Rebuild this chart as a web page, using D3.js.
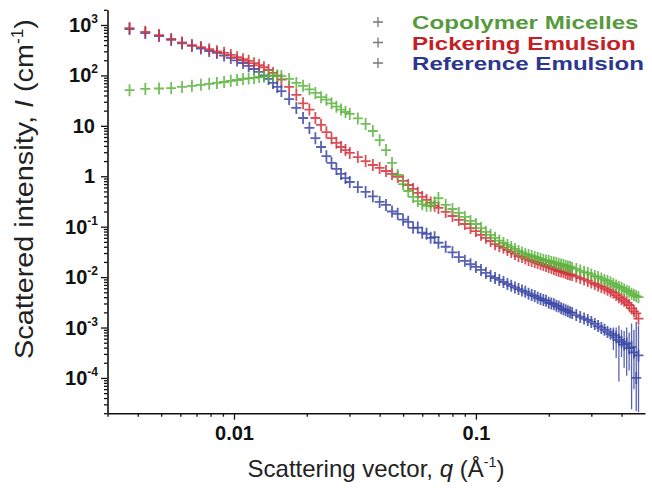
<!DOCTYPE html>
<html>
<head>
<meta charset="utf-8">
<script src="https://cdn.jsdelivr.net/npm/d3@7"></script>
<style>
  html, body { margin: 0; padding: 0; background: #fff; }
  svg { display: block; font-family: "Liberation Sans", Arial, Helvetica, sans-serif; }
</style>
</head>
<body>
<svg id="chart" width="652" height="489"></svg>
<script>
// Scattering vector q (Å⁻¹) shared by the three SANS curves
const q = [
  0.0037, 0.0043, 0.0049, 0.0055, 0.0061, 0.0067, 0.0073, 0.0079, 0.0085, 0.0091,
  0.0097, 0.0103, 0.0109, 0.0115, 0.0121, 0.0127, 0.0133, 0.0139, 0.0145, 0.0151, 0.0157,
  0.0169, 0.0181, 0.0193, 0.0205, 0.0217, 0.0229, 0.0241, 0.0253, 0.0265, 0.0277, 0.0289, 0.0301,
  0.0325, 0.035, 0.0375, 0.04, 0.0425, 0.045, 0.0475, 0.05, 0.0525, 0.055, 0.0575, 0.06,
  0.0625, 0.065, 0.0675, 0.07,
  0.075, 0.08, 0.085, 0.09, 0.095, 0.1, 0.105, 0.11, 0.115, 0.12, 0.125, 0.13, 0.135, 0.14,
  0.145, 0.15, 0.155, 0.16, 0.165, 0.17, 0.175, 0.18, 0.185, 0.19, 0.195, 0.2, 0.205, 0.21,
  0.215, 0.22, 0.225, 0.23, 0.235, 0.24, 0.245, 0.25,
  0.26, 0.27, 0.28, 0.29, 0.30, 0.31, 0.32, 0.33, 0.34, 0.35, 0.36, 0.37, 0.38, 0.39,
  0.40, 0.41, 0.42, 0.43, 0.44, 0.45, 0.46, 0.47
];

// Scattered intensity I (cm⁻¹)
const copolymerMicelles = [
  51, 54, 55, 56, 59, 62, 65, 68, 71, 74, 78, 81, 85, 87, 89, 93, 95, 97, 100, 100, 97,
  85, 71, 62, 53, 45, 37, 33, 28, 24, 21, 18.8, 17.2,
  14.0, 10.9, 7.9, 5.2, 3.3, 1.84, 1.06, 0.70, 0.51, 0.39, 0.32, 0.28, 0.26, 0.26, 0.30, 0.37,
  0.27, 0.224, 0.187, 0.156, 0.130, 0.113, 0.094, 0.079, 0.069, 0.060, 0.053, 0.0475, 0.0434,
  0.0396, 0.0362, 0.0330, 0.0308, 0.0288, 0.0275, 0.0262, 0.0251, 0.0240, 0.0229, 0.0219,
  0.0214, 0.0209, 0.0200, 0.0195, 0.0191, 0.0182, 0.0178, 0.0174, 0.0166, 0.0163, 0.0159, 0.0152,
  0.0145, 0.0135, 0.0126, 0.0121, 0.0113, 0.0105, 0.0101, 0.0094, 0.0088, 0.0084, 0.0078,
  0.0073, 0.0068, 0.0064, 0.0061, 0.0057, 0.0053, 0.0051, 0.0047, 0.0044, 0.0042, 0.0040
];

const pickeringEmulsion = [
  870, 730, 630, 530, 450, 400, 365, 330, 300, 280, 255, 230, 210, 195, 175, 160, 145, 128, 112, 97, 83,
  59, 41, 28, 21, 14.3, 10.4, 7.5, 5.7, 4.6, 3.8, 3.3, 2.9,
  2.4, 2.0, 1.67, 1.46, 1.27, 1.11, 0.97, 0.81, 0.67, 0.56, 0.47, 0.39, 0.34, 0.30, 0.26, 0.235,
  0.196, 0.163, 0.136, 0.113, 0.094, 0.082, 0.069, 0.060, 0.052, 0.045, 0.041, 0.038, 0.0345,
  0.0315, 0.0288, 0.0262, 0.0251, 0.0234, 0.0219, 0.0209, 0.0200, 0.0191, 0.0182, 0.0174,
  0.0166, 0.0159, 0.0152, 0.0145, 0.0139, 0.0132, 0.0129, 0.0126, 0.0121, 0.0115, 0.0113, 0.0110,
  0.0103, 0.0096, 0.0090, 0.0084, 0.0078, 0.0073, 0.0068, 0.0064, 0.0060, 0.0056, 0.0052,
  0.0049, 0.0044, 0.0040, 0.0037, 0.0034, 0.0031, 0.0028, 0.0024, 0.0021, 0.0019, 0.0015
];

const referenceEmulsion = [
  830, 690, 605, 505, 430, 384, 342, 305, 279, 248, 222, 198, 176, 154, 134, 117, 100, 85, 71, 59, 49,
  34, 22.6, 14.3, 9.1, 5.7, 3.8, 2.5, 1.84, 1.40, 1.11, 0.92, 0.77,
  0.61, 0.49, 0.40, 0.31, 0.27, 0.20, 0.18, 0.138, 0.125, 0.095, 0.096, 0.076, 0.072, 0.060, 0.062, 0.048,
  0.040, 0.031, 0.025, 0.021, 0.018, 0.0159, 0.0139, 0.0121, 0.0105, 0.0096, 0.0088, 0.0080, 0.0073,
  0.0067, 0.0062, 0.0058, 0.0054, 0.0051, 0.0047, 0.0044, 0.0042, 0.0039, 0.0037, 0.0035,
  0.0034, 0.0031, 0.0030, 0.0029, 0.0027, 0.0026, 0.0024, 0.0023, 0.0022, 0.0021, 0.0020, 0.00195,
  0.00177, 0.00162, 0.00151, 0.00141, 0.00129, 0.00118, 0.00107, 0.00098, 0.00090, 0.00082, 0.00075,
  0.00070, 0.00064, 0.00057, 0.00052, 0.00046, 0.00048, 0.00039, 0.00041, 0.00032, 0.00010, 0.00028
];

// Error bars on the noisy high-q end of the reference emulsion
const refTailQ    = [0.37, 0.38, 0.39, 0.40, 0.41, 0.42, 0.43, 0.44, 0.45, 0.46, 0.47];
const refTailLow  = [3.6e-4, 2.5e-4, 8.5e-5, 2.6e-4, 1.6e-4, 1.1e-4, 1.4e-4, 2.4e-5, 6e-5, 2.2e-5, 2.1e-5];
const refTailHigh = [1.0e-3, 1.0e-3, 1.1e-3, 9e-4, 8.5e-4, 1.0e-3, 8e-4, 1.2e-3, 9e-4, 1.3e-3, 1.1e-3];

const seriesNames  = ["Copolymer Micelles", "Pickering Emulsion", "Reference Emulsion"];
const markerColors = ["#5cb43e", "#d3313a", "#3a46a4"];
const labelColors  = ["#569a3c", "#c41e26", "#2c378e"];

const xMajorTicks = [0.01, 0.1];
const xTickLabels = ["0.01", "0.1"];
const yMajorTicks = [1e3, 1e2, 1e1, 1, 1e-1, 1e-2, 1e-3, 1e-4];
const yTickLabels = [["10", "3"], ["10", "2"], ["10", ""], ["1", ""], ["10", "-1"], ["10", "-2"], ["10", "-3"], ["10", "-4"]];

const xTitle = ["Scattering vector, ", "q", " (Å", "-1", ")"];
const yTitle = ["Scattered intensity, ", "I", " (cm", "-1", ")"];

// ---------------------------------------------------------------
const svg = d3.select("#chart");

const x = d3.scaleLog().domain([0.003, 0.5]).range([107.5, 645]);
const y = d3.scaleLog().domain([2e-5, 2e3]).range([413.2, 9.8]);

// minor tick positions: 2..9 × 10^n inside each domain
function minorTicks(scale) {
  const [a, b] = scale.domain();
  const out = [];
  for (let e = Math.floor(Math.log10(a)); e <= Math.ceil(Math.log10(b)); e++) {
    for (let k = 2; k <= 9; k++) {
      const v = k * Math.pow(10, e);
      if (v >= a * 0.999 && v <= b * 1.001) out.push(v);
    }
  }
  return out;
}

// ---- y axis
const yAxisG = svg.append("g").attr("transform", `translate(${x.range()[0]},0)`);
yAxisG.call(d3.axisLeft(y).tickValues(minorTicks(y)).tickSize(3.5).tickSizeOuter(0).tickFormat(""));
yAxisG.append("g").call(d3.axisLeft(y).tickValues(yMajorTicks).tickSize(6.5).tickSizeOuter(0).tickFormat(""));
yAxisG.selectAll("g g .domain").remove();

// ---- x axis
const xAxisG = svg.append("g").attr("transform", `translate(0,${y.range()[0]})`);
xAxisG.call(d3.axisBottom(x).tickValues(minorTicks(x).filter(v => v < 0.49)).tickSize(3.5).tickSizeOuter(0).tickFormat(""));
xAxisG.append("g").call(d3.axisBottom(x).tickValues(xMajorTicks).tickSize(6.5).tickSizeOuter(0)
  .tickFormat((d, i) => xTickLabels[i]).tickPadding(6));
xAxisG.selectAll("g g .domain").remove();

svg.selectAll(".domain").attr("stroke", "#111").attr("stroke-width", 1.6);
svg.selectAll(".tick line").attr("stroke", "#111").attr("stroke-width", 1.3);

xAxisG.selectAll(".tick text")
  .attr("fill", "#111")
  .style("font-size", "20px")
  .style("font-weight", "bold");

// y tick labels with superscript exponents
yMajorTicks.forEach((v, i) => {
  const [base, exp] = yTickLabels[i];
  const t = svg.append("text")
    .attr("x", exp ? 98 : 95)
    .attr("y", y(v) + 7)
    .attr("text-anchor", "end")
    .attr("fill", "#111")
    .style("font-size", "20px")
    .style("font-weight", "bold");
  t.append("tspan").text(base);
  if (exp) t.append("tspan").attr("dy", -9).style("font-size", "12px").text(exp);
});

// ---- axis titles
function titleText(g, parts, size, length) {
  const t = g.append("text").attr("text-anchor", "middle").attr("fill", "#222").style("font-size", size + "px");
  t.append("tspan").text(parts[0]);
  t.append("tspan").style("font-style", "italic").text(parts[1]);
  t.append("tspan").text(parts[2]);
  t.append("tspan").attr("dy", -size * 0.4).style("font-size", (size * 0.6) + "px").text(parts[3]);
  t.append("tspan").attr("dy", size * 0.4).text(parts[4]);
  if (length) t.attr("textLength", length).attr("lengthAdjust", "spacingAndGlyphs");
  return t;
}
titleText(svg.append("g").attr("transform", "translate(376,477)"), xTitle, 24);
titleText(svg.append("g").attr("transform", "translate(33,189) rotate(-90)"), yTitle, 26, 340);

// ---- data markers
const plusPath = "M-5,0H5M0,-6V6";

const plotOrder = [
  { values: referenceEmulsion, color: markerColors[2] },
  { values: pickeringEmulsion, color: markerColors[1] },
  { values: copolymerMicelles, color: markerColors[0] }
];

// error bars first so markers sit on top
svg.append("g").selectAll("line")
  .data(refTailQ.map((qq, i) => ({ q: qq, lo: refTailLow[i], hi: refTailHigh[i] })))
  .join("line")
  .attr("x1", d => x(d.q)).attr("x2", d => x(d.q))
  .attr("y1", d => y(d.lo)).attr("y2", d => y(d.hi))
  .attr("stroke", markerColors[2]).attr("stroke-width", 1.3).attr("stroke-opacity", 0.85);

plotOrder.forEach(s => {
  svg.append("g").selectAll("path")
    .data(q.map((qq, i) => ({ q: qq, I: s.values[i] })).filter(d => d.I != null))
    .join("path")
    .attr("transform", d => `translate(${x(d.q)},${y(d.I)})`)
    .attr("d", plusPath)
    .attr("fill", "none")
    .attr("stroke", s.color)
    .attr("stroke-width", 1.8)
    .attr("stroke-opacity", 0.85);
});

// ---- legend
const legend = svg.append("g");
const legendY = [22, 42.5, 63];
seriesNames.forEach((name, i) => {
  legend.append("path")
    .attr("transform", `translate(378,${legendY[i]})`)
    .attr("d", "M-5,0H5M0,-5V5")
    .attr("stroke", "#777").attr("stroke-width", 1.3).attr("fill", "none");
  const t = legend.append("text")
    .attr("x", 412).attr("y", legendY[i] + 7)
    .attr("fill", labelColors[i])
    .style("font-size", "18px")
    .style("font-weight", "bold")
    .text(name);
  const w = t.node().getComputedTextLength();
  t.attr("textLength", w * 1.34).attr("lengthAdjust", "spacingAndGlyphs");
});
</script>
</body>
</html>
